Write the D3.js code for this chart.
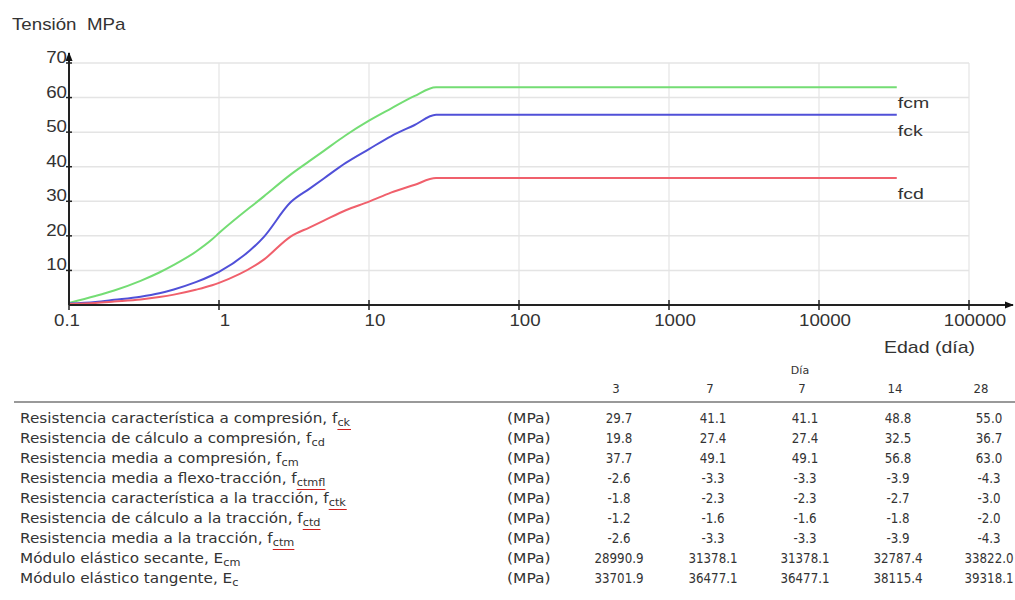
<!DOCTYPE html>
<html>
<head>
<meta charset="utf-8">
<script src="https://cdn.jsdelivr.net/npm/d3@7"></script>
<style>
  body { margin: 0; background: #fff; }
  svg text { fill: #333; }
</style>
</head>
<body>
<svg id="chart" width="1015" height="600"></svg>
<script>
// edad (dias) y tension (MPa)
var ages = [0.1, 0.15, 0.2, 0.3, 0.4, 0.5, 0.7, 0.9, 1, 2, 3, 4, 5, 7, 10, 14, 20, 28, 33000];
var fcm = [0.6, 2.6, 4.2, 7.0, 9.4, 11.6, 15.4, 19.0, 20.8, 31.5, 37.7, 41.6, 44.6, 49.1, 53.3, 56.8, 60.4, 63, 63];
var fck = [0.4, 0.9, 1.5, 2.4, 3.4, 4.5, 6.6, 8.6, 9.6, 19.8, 29.7, 33.6, 36.6, 41.1, 45.1, 48.8, 52.0, 55, 55];
var fcd = [0.3, 0.6, 1.0, 1.6, 2.3, 3.0, 4.4, 5.7, 6.4, 13.2, 19.8, 22.4, 24.4, 27.4, 29.9, 32.5, 34.7, 36.7, 36.7];

var xTicks = [0.1, 1, 10, 100, 1000, 10000, 100000];
var xTickLabels = ['0.1', '1', '10', '100', '1000', '10000', '100000'];
var yTicks = [10, 20, 30, 40, 50, 60, 70];

// tabla
var days = ['3', '7', '7', '14', '28'];
var rowNames = [
  'Resistencia característica a compresión, f',
  'Resistencia de cálculo a compresión, f',
  'Resistencia media a compresión, f',
  'Resistencia media a flexo-tracción, f',
  'Resistencia característica a la tracción, f',
  'Resistencia de cálculo a la tracción, f',
  'Resistencia media a la tracción, f',
  'Módulo elástico secante, E',
  'Módulo elástico tangente, E'
];
var rowSubs = ['ck', 'cd', 'cm', 'ctmfl', 'ctk', 'ctd', 'ctm', 'cm', 'c'];
var rowSubMarked = [true, false, false, true, true, true, true, false, false];
var rowUnits = ['(MPa)', '(MPa)', '(MPa)', '(MPa)', '(MPa)', '(MPa)', '(MPa)', '(MPa)', '(MPa)'];
var rowValues = [
  ['29.7', '41.1', '41.1', '48.8', '55.0'],
  ['19.8', '27.4', '27.4', '32.5', '36.7'],
  ['37.7', '49.1', '49.1', '56.8', '63.0'],
  ['-2.6', '-3.3', '-3.3', '-3.9', '-4.3'],
  ['-1.8', '-2.3', '-2.3', '-2.7', '-3.0'],
  ['-1.2', '-1.6', '-1.6', '-1.8', '-2.0'],
  ['-2.6', '-3.3', '-3.3', '-3.9', '-4.3'],
  ['28990.9', '31378.1', '31378.1', '32787.4', '33822.0'],
  ['33701.9', '36477.1', '36477.1', '38115.4', '39318.1']
];

var series = [
  {name: 'fcm', values: fcm, color: '#74dd74'},
  {name: 'fck', values: fck, color: '#5050d8'},
  {name: 'fcd', values: fcd, color: '#f0606c'}
];

var svg = d3.select('#chart');
var axisFont = '"Liberation Sans", Arial, sans-serif';
var tableFont = '"DejaVu Sans", Verdana, sans-serif';
var sxAxis = 1.17;   // the original text is drawn a bit wide

function place(px, py, sx) {
  return 'translate(' + px + ',' + py + ') scale(' + sx + ',1)';
}

var x = d3.scaleLog().domain([0.1, 100000]).range([69, 969]);
var y = d3.scaleLinear().domain([0, 70]).range([305, 63]);

// grid
var grid = svg.append('g').attr('class', 'grid');
grid.selectAll('line.h')
  .data(yTicks)
  .enter()
  .append('line')
  .attr('x1', x(0.1)).attr('x2', x(100000))
  .attr('y1', function(d) { return y(d); })
  .attr('y2', function(d) { return y(d); })
  .attr('stroke', '#e4e4e4').attr('stroke-width', 1.5);
grid.selectAll('line.v')
  .data(xTicks.slice(1))
  .enter()
  .append('line')
  .attr('y1', y(0)).attr('y2', y(70))
  .attr('x1', function(d) { return x(d); })
  .attr('x2', function(d) { return x(d); })
  .attr('stroke', '#e4e4e4').attr('stroke-width', 1.2);

// curves
var line = d3.line()
  .x(function(d) { return x(d[0]); })
  .y(function(d) { return y(d[1]); })
  .curve(d3.curveMonotoneX);

svg.append('g').selectAll('path')
  .data(series)
  .enter()
  .append('path')
  .attr('d', function(s) { return line(ages.map(function(a, i) { return [a, s.values[i]]; })); })
  .attr('fill', 'none')
  .attr('stroke', function(s) { return s.color; })
  .attr('stroke-width', 2);

// series labels
svg.append('g').selectAll('text')
  .data(series)
  .enter()
  .append('text')
  .attr('transform', function(s) {
    return place(x(ages[ages.length - 1]) + 1, y(s.values[s.values.length - 1]) + 21, 1.3);
  })
  .attr('font-family', axisFont)
  .attr('font-size', 15)
  .text(function(s) { return s.name; });

// axes
svg.append('defs').append('marker')
  .attr('id', 'arrow')
  .attr('viewBox', '0 0 10 10')
  .attr('refX', 9).attr('refY', 5)
  .attr('markerWidth', 9).attr('markerHeight', 9)
  .attr('markerUnits', 'userSpaceOnUse')
  .attr('orient', 'auto')
  .append('path').attr('d', 'M0,1 L10,5 L0,9 Z').attr('fill', '#111');

svg.append('line')
  .attr('x1', x(0.1)).attr('x2', 1013)
  .attr('y1', y(0)).attr('y2', y(0))
  .attr('stroke', '#222').attr('stroke-width', 2)
  .attr('marker-end', 'url(#arrow)');
svg.append('line')
  .attr('x1', x(0.1)).attr('x2', x(0.1))
  .attr('y1', y(0)).attr('y2', 53)
  .attr('stroke', '#222').attr('stroke-width', 2)
  .attr('marker-end', 'url(#arrow)');

var xg = svg.append('g').selectAll('g')
  .data(xTicks)
  .enter()
  .append('g')
  .attr('transform', function(d) { return 'translate(' + x(d) + ',' + y(0) + ')'; });
xg.append('line').attr('y1', -5).attr('y2', 5).attr('stroke', '#222').attr('stroke-width', 1.5);
xg.append('text')
  .attr('transform', function(d, i) { return place(i === 0 ? -2 : 6, 21, sxAxis); })
  .attr('text-anchor', 'middle')
  .attr('font-family', axisFont).attr('font-size', 16)
  .text(function(d, i) { return xTickLabels[i]; });

var yg = svg.append('g').selectAll('g')
  .data(yTicks)
  .enter()
  .append('g')
  .attr('transform', function(d) { return 'translate(' + x(0.1) + ',' + y(d) + ')'; });
yg.append('line').attr('x1', -3).attr('x2', 3).attr('stroke', '#222').attr('stroke-width', 1.5);
yg.append('text')
  .attr('transform', place(-2, 0, 1.1))
  .attr('text-anchor', 'end')
  .attr('font-family', axisFont).attr('font-size', 17)
  .text(function(d) { return d; });

svg.append('text')
  .attr('transform', place(12, 30, sxAxis))
  .attr('font-family', axisFont).attr('font-size', 16)
  .attr('xml:space', 'preserve')
  .text('Tensión  MPa');
svg.append('text')
  .attr('transform', place(975, 353, 1.22))
  .attr('text-anchor', 'end')
  .attr('font-family', axisFont).attr('font-size', 16)
  .text('Edad (día)');

// table
var colX = [619, 713, 805, 898, 989];
var rowY0 = 423, rowStep = 20;

svg.append('text').attr('x', 800).attr('y', 374)
  .attr('text-anchor', 'middle')
  .attr('font-family', tableFont).attr('font-size', 11)
  .text('Día');
svg.append('g').selectAll('text')
  .data(days)
  .enter()
  .append('text')
  .attr('transform', function(d, i) { return place(colX[i] - (i === 4 ? 8 : 3), 393, 0.9); })
  .attr('text-anchor', 'middle')
  .attr('font-family', tableFont).attr('font-size', 13)
  .text(function(d) { return d; });
svg.append('line')
  .attr('x1', 14).attr('x2', 1015)
  .attr('y1', 402).attr('y2', 402)
  .attr('stroke', '#999').attr('stroke-width', 2);

var rows = svg.append('g').selectAll('g')
  .data(rowNames)
  .enter()
  .append('g')
  .attr('transform', function(d, i) { return 'translate(0,' + (rowY0 + i * rowStep) + ')'; });

var labelG = rows.append('g').attr('transform', place(20, 0, 1.13));
var label = labelG.append('text')
  .attr('font-family', tableFont).attr('font-size', 13.5);
label.append('tspan').text(function(d) { return d; });
label.append('tspan')
  .attr('class', 'sub')
  .attr('dy', 3)
  .attr('font-size', 10)
  .text(function(d, i) { return rowSubs[i]; });

labelG.each(function(d, i) {
  if (!rowSubMarked[i]) return;
  var sub = d3.select(this).select('tspan.sub').node();
  var bb = sub.getBBox();
  d3.select(this).append('line')
    .attr('x1', bb.x).attr('x2', bb.x + bb.width)
    .attr('y1', 6.5).attr('y2', 6.5)
    .attr('stroke', '#d02020').attr('stroke-width', 1);
});

rows.append('text')
  .attr('transform', place(507, 0, 1.15))
  .attr('font-family', tableFont).attr('font-size', 13.5)
  .text(function(d, i) { return rowUnits[i]; });

rows.selectAll('text.val')
  .data(function(d, i) { return rowValues[i]; })
  .enter()
  .append('text')
  .attr('class', 'val')
  .attr('transform', function(d, j) { return place(colX[j], 0, 0.88); })
  .attr('text-anchor', 'middle')
  .attr('font-family', tableFont).attr('font-size', 13.5)
  .text(function(d) { return d; });
</script>
</body>
</html>
